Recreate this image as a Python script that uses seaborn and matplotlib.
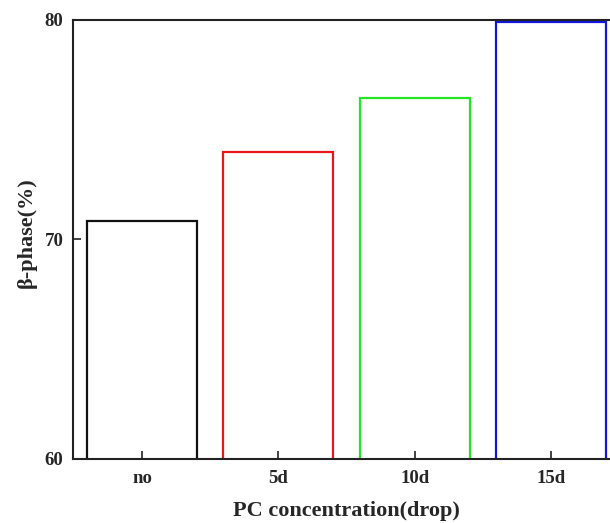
import matplotlib
matplotlib.use("Agg")
import matplotlib.pyplot as plt
import seaborn as sns
import pandas as pd

categories = ["no", "5d", "10d", "15d"]
beta_phase = [70.86, 73.99, 76.45, 79.92]
colors = ["#111111", "#e8171b", "#22e622", "#1414dc"]
yticks = [60, 70, 80]

sns.set_theme(style="white")
plt.rcParams["font.family"] = ["Liberation Serif", "DejaVu Serif"]
plt.rcParams["font.weight"] = "bold"

df = pd.DataFrame({"cat": categories, "val": beta_phase})

fig = plt.figure(figsize=(6.10, 5.23), dpi=100)
ax = fig.add_axes([73/610, 64/523, 547/610, 439/523])

sns.barplot(data=df, x="cat", y="val", hue="cat", palette=colors,
            fill=False, width=0.807, linewidth=1.6, legend=False, ax=ax)

ax.set_ylim(60, 80)
ax.set_xlim(-0.506, 3.506)
ax.set_yticks(yticks)
ax.tick_params(axis="both", direction="in", length=6, width=1.2, color="#222222",
               labelsize=13.5, bottom=True, left=True)
ax.tick_params(axis="x", pad=8)
ax.tick_params(axis="y", pad=7)
for lab in ax.get_xticklabels() + ax.get_yticklabels():
    lab.set_fontweight("bold")

for s in ["left", "bottom", "top", "right"]:
    ax.spines[s].set_linewidth(1.5)
    ax.spines[s].set_color("#222222")

ax.set_xlabel("PC concentration(drop)", fontsize=16, fontweight="bold", labelpad=10)
ax.set_ylabel("β-phase(%)", fontsize=16, fontweight="bold")
ax.yaxis.set_label_coords(-0.066, 0.515)

fig.savefig("out.png", dpi=100)
